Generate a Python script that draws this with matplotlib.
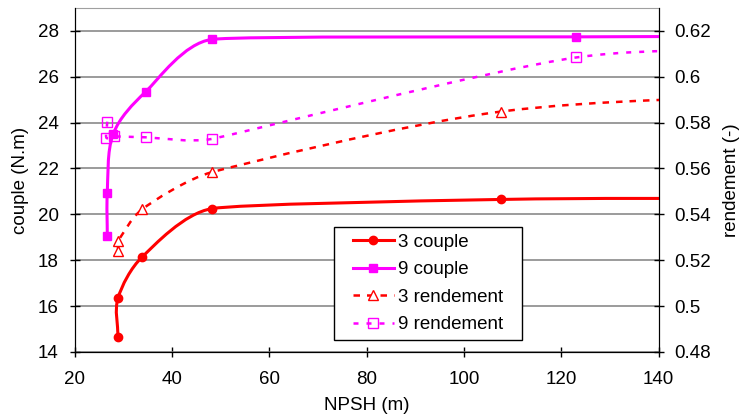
import numpy as np
import matplotlib
matplotlib.use("Agg")
import matplotlib.pyplot as plt
from matplotlib.path import Path
from matplotlib.patches import PathPatch, Rectangle
from matplotlib.lines import Line2D
from matplotlib.ticker import FuncFormatter

plt.rcParams['font.family'] = ['Liberation Sans', 'DejaVu Sans']

# données (le dernier point est hors cadre, x > 140)
npsh_c3 = [28.9, 28.9, 33.9, 48.2, 107.5, 165.0]
couple_3 = [14.65, 16.35, 18.15, 20.25, 20.65, 20.7]

npsh_c9 = [26.7, 26.7, 27.9, 34.6, 48.2, 123.0, 160.0]
couple_9 = [19.05, 20.95, 23.5, 25.35, 27.63, 27.74, 27.76]

npsh_r3 = [28.95, 28.95, 33.9, 48.2, 107.5, 175.0]
rend_3 = [0.5242, 0.5283, 0.5423, 0.5584, 0.5848, 0.593]

npsh_r9 = [26.7, 26.5, 28.0, 34.6, 48.2, 123.0, 175.0]
rend_9 = [0.5804, 0.5735, 0.574, 0.5736, 0.5729, 0.6084, 0.611]

x_ticks = [20, 40, 60, 80, 100, 120, 140]
couple_ticks = [14, 16, 18, 20, 22, 24, 26, 28]
rend_ticks = [0.48, 0.50, 0.52, 0.54, 0.56, 0.58, 0.60, 0.62]

RED = '#FF0000'
MAG = '#FF00FF'
FS = 13.5


# courbe lissée façon Excel : Bezier, tangentes calculées à l'écran
def smooth_path(ax, xs, ys):
    pts = ax.transData.transform(np.column_stack([xs, ys]))
    n = len(pts)
    verts = [pts[0]]
    codes = [Path.MOVETO]

    def unit(v):
        d = np.hypot(*v)
        return v / d if d > 0 else v

    seg = [np.hypot(*(pts[i + 1] - pts[i])) for i in range(n - 1)]
    for i in range(n - 1):
        p0 = pts[max(i - 1, 0)]
        p1 = pts[i]
        p2 = pts[i + 1]
        p3 = pts[min(i + 2, n - 1)]
        d = seg[i]
        d_start = d if i == 0 else min(d, seg[i - 1])
        d_end = d if i == n - 2 else min(d, seg[i + 1])
        c1 = p1 + unit(p2 - p0) * d_start / 3
        c2 = p2 - unit(p3 - p1) * d_end / 3
        verts += [c1, c2, p2]
        codes += [Path.CURVE4] * 3
    verts = ax.transData.inverted().transform(np.array(verts))
    return Path(verts, codes)


fig = plt.figure(figsize=(7.41, 4.19), dpi=100)
ax1 = fig.add_axes([0.1008, 0.160, 0.7882, 0.821])
ax2 = ax1.twinx()

ax1.set_xlim(20, 140)
ax1.set_ylim(14, 29)
ax2.set_ylim(0.48, 0.63)

# couple (axe gauche)
ax1.add_patch(PathPatch(smooth_path(ax1, npsh_c3, couple_3), facecolor='none',
                        edgecolor=RED, lw=2.2, zorder=3))
ax1.plot(npsh_c3, couple_3, ls='none', marker='o', ms=6, color=RED, zorder=4)

ax1.add_patch(PathPatch(smooth_path(ax1, npsh_c9, couple_9), facecolor='none',
                        edgecolor=MAG, lw=2.2, zorder=3))
ax1.plot(npsh_c9, couple_9, ls='none', marker='s', ms=6, color=MAG, zorder=4)

# rendement (axe droit)
ax2.add_patch(PathPatch(smooth_path(ax2, npsh_r3, rend_3), facecolor='none',
                        edgecolor=RED, lw=1.8, linestyle=(0, (2.6, 2.8)), zorder=3))
ax2.plot(npsh_r3, rend_3, ls='none', marker='^', ms=7, mfc='white',
         mec=RED, mew=1.0, zorder=4)

ax2.add_patch(PathPatch(smooth_path(ax2, npsh_r9, rend_9), facecolor='none',
                        edgecolor=MAG, lw=1.8, linestyle=(0, (2.0, 3.2)), zorder=3))
ax2.plot(npsh_r9, rend_9, ls='none', marker='s', ms=6.5, mfc='none',
         mec=MAG, mew=1.0, zorder=4)

ax1.set_xlim(20, 140)
ax1.set_ylim(14, 29)
ax2.set_ylim(0.48, 0.63)
ax1.set_xticks(x_ticks)
ax1.set_yticks(couple_ticks)
ax2.set_yticks(rend_ticks)
ax2.yaxis.set_major_formatter(FuncFormatter(lambda v, p: '%g' % round(v, 2)))

ax1.grid(axis='y', color='#808080', lw=1.1)
ax1.set_axisbelow(True)

for ax in (ax1, ax2):
    ax.tick_params(labelsize=FS, direction='inout', length=7, width=1,
                   colors='black', pad=8)
    ax.spines['top'].set_color('#A0A0A0')
    ax.spines['left'].set_color('black')
    ax.spines['bottom'].set_color('black')
    ax.spines['right'].set_color('black')
ax2.spines['top'].set_visible(False)
ax1.tick_params(axis='x', pad=10)

ax1.set_xlabel('NPSH (m)', fontsize=FS, labelpad=7)
ax1.set_ylabel('couple (N.m)', fontsize=FS, labelpad=6)
ax2.set_ylabel('rendement (-)', fontsize=FS, labelpad=8)

# légende : cadre dessiné à part pour avoir la marge d'Excel
ax2.add_patch(Rectangle((0.444, 0.035), 0.3215, 0.328, transform=ax2.transAxes,
                        facecolor='white', edgecolor='black', lw=1.0, zorder=9))
handles = [
    Line2D([], [], color=RED, lw=2.2, marker='o', ms=6),
    Line2D([], [], color=MAG, lw=2.2, marker='s', ms=6),
    Line2D([], [], color=RED, lw=1.8, ls=(0, (2.6, 2.8)), marker='^', ms=7,
           mfc='white', mec=RED, mew=1.0),
    Line2D([], [], color=MAG, lw=1.8, ls=(0, (2.0, 3.2)), marker='s', ms=6.5,
           mfc='none', mec=MAG, mew=1.0),
]
labels = ['3 couple', '9 couple', '3 rendement', '9 rendement']
leg = ax2.legend(handles, labels, loc='lower left', bbox_to_anchor=(0.4645, 0.035),
                 fontsize=FS, frameon=False, borderaxespad=0, handlelength=2.2,
                 handletextpad=0.25, labelspacing=0.55, borderpad=0.35)
leg.set_zorder(10)

fig.savefig('out.png', dpi=100)
